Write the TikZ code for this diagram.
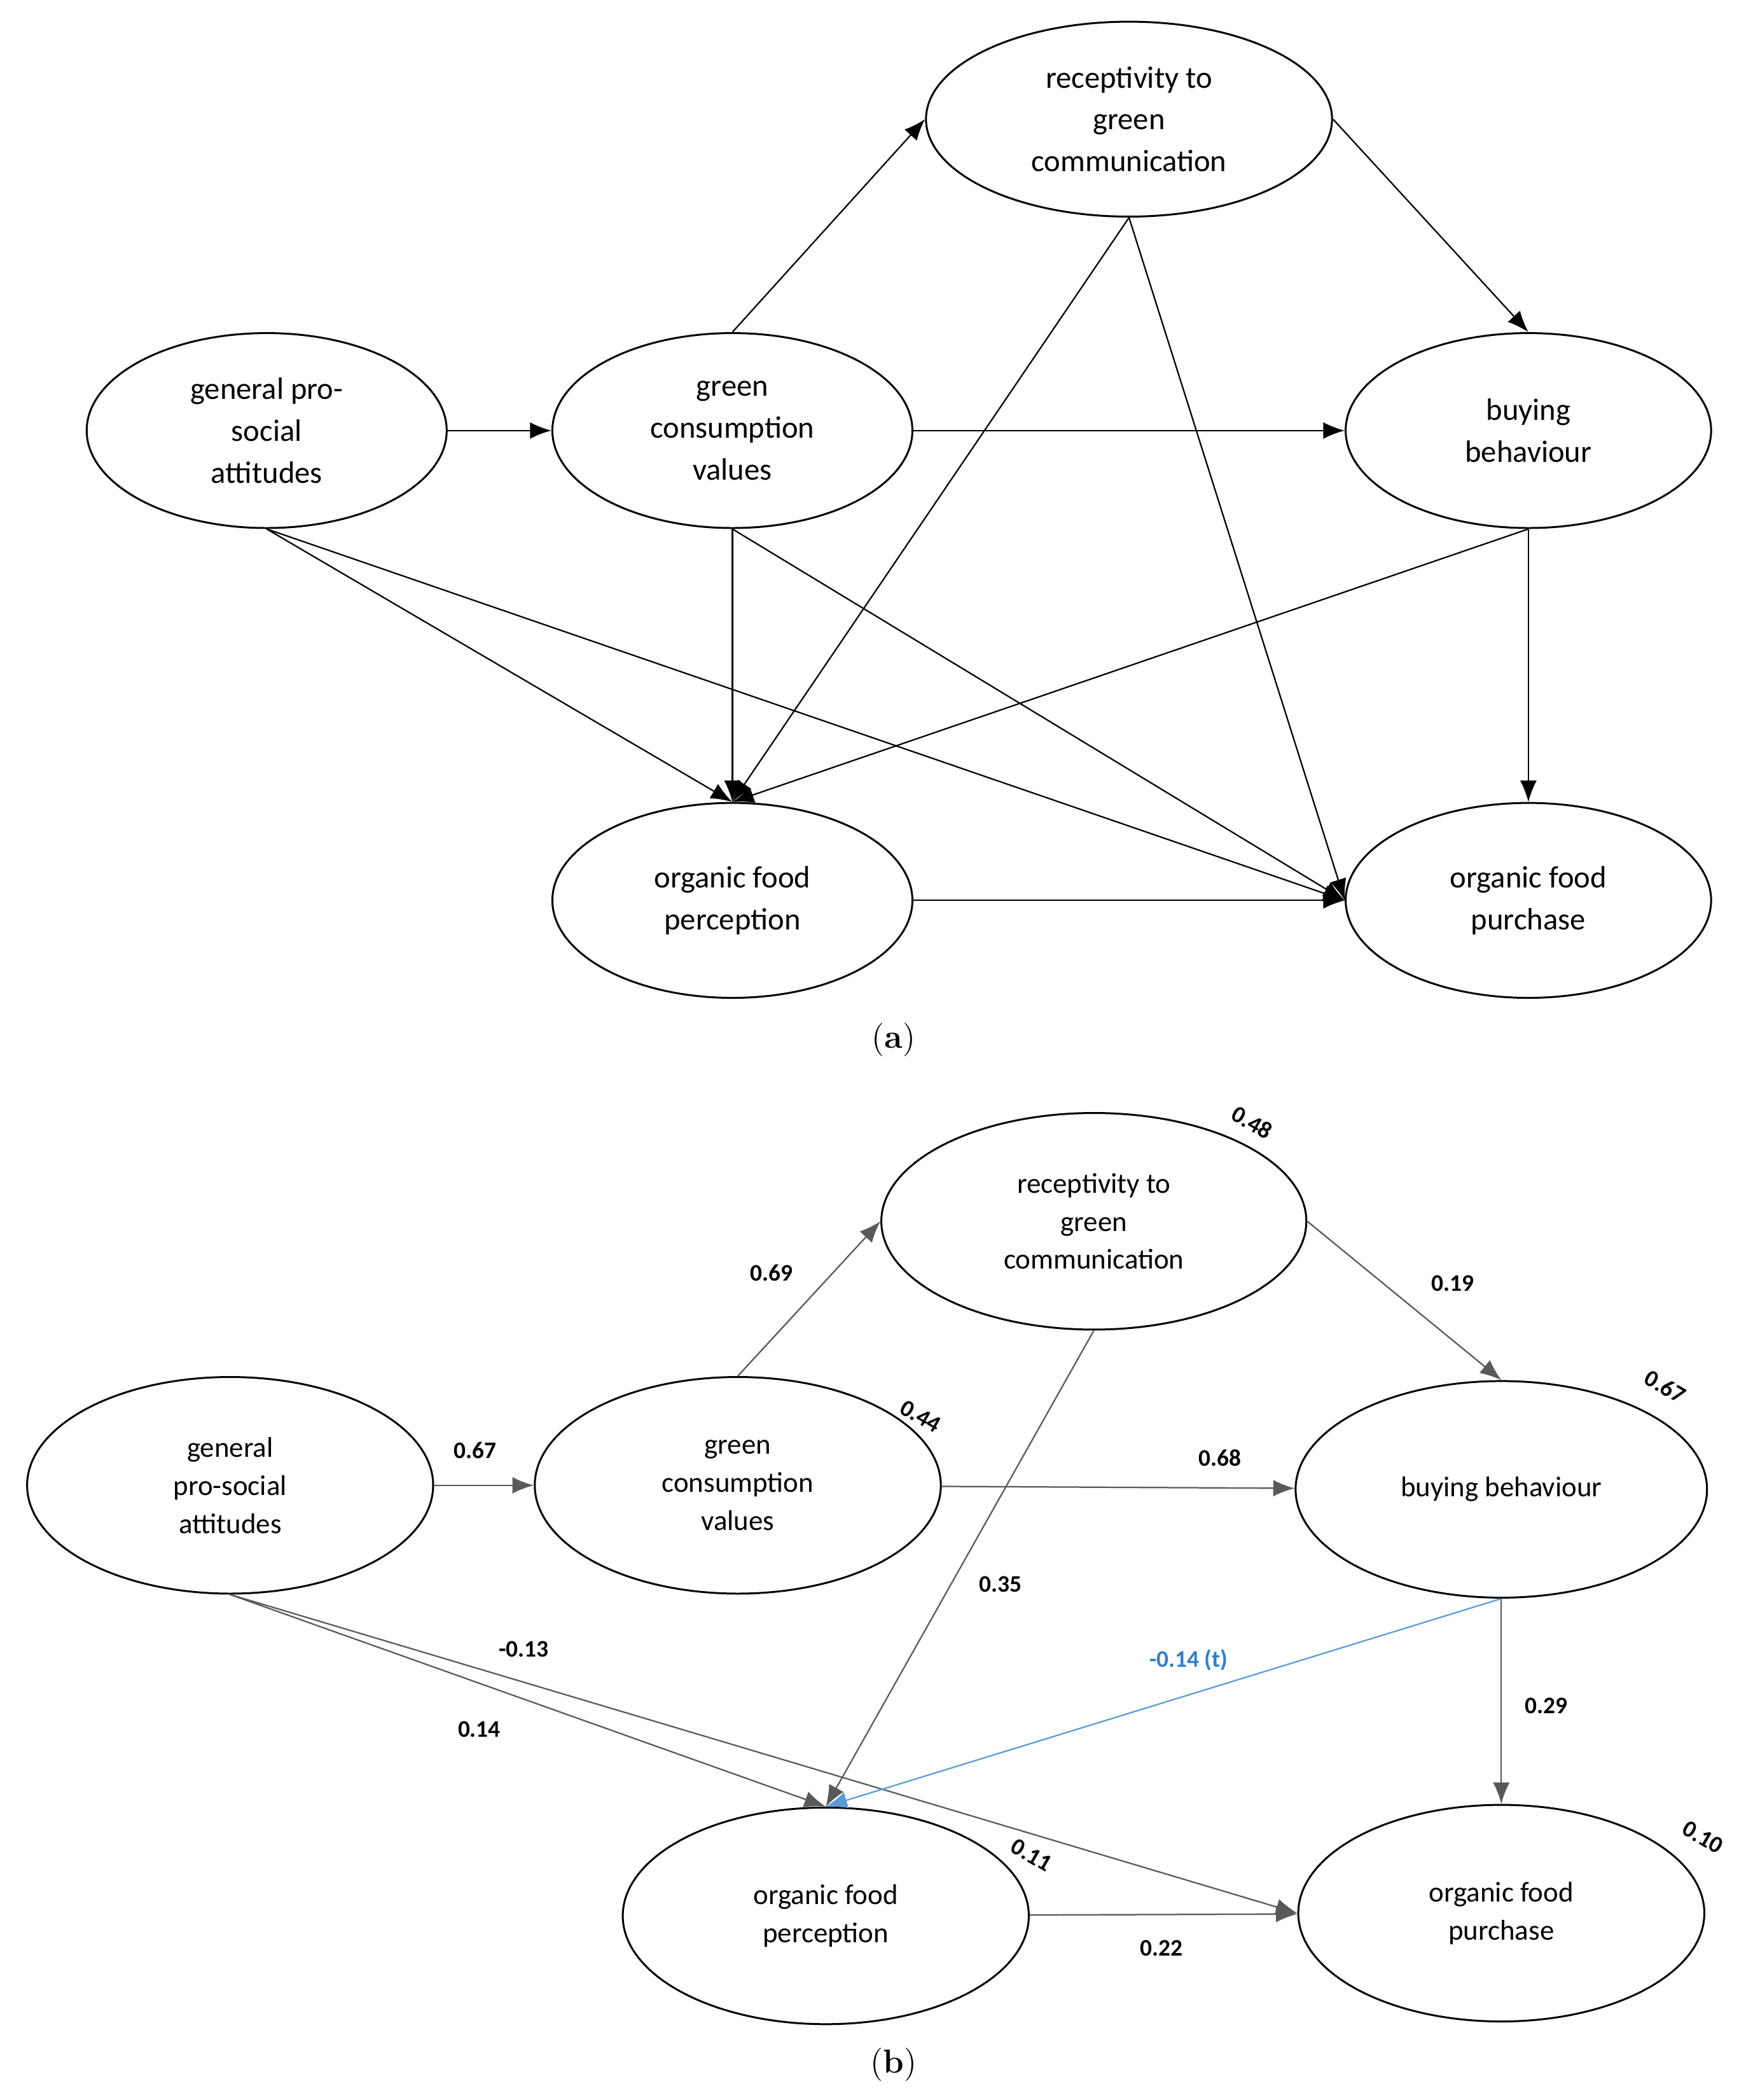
\documentclass[tikz,border=0pt]{standalone}
\usepackage{fontspec}
\setmainfont{Latin Modern Roman}
\newfontfamily\lbl{Carlito}
\usetikzlibrary{shapes.geometric,arrows.meta}

\begin{document}
\begin{tikzpicture}[x=0.02cm,y=-0.02cm,
  latent/.style={draw, ellipse, thick, align=center, font=\lbl\fontsize{13}{17.6}\selectfont, inner sep=0pt},
  lat/.style={latent, minimum width=5.32cm, minimum height=2.88cm},
  latb/.style={latent, minimum width=6cm, minimum height=3.2cm, font=\lbl\fontsize{12}{16}\selectfont},
  path/.style={-{Latex[length=9pt,width=7pt]}, line width=0.6pt},
  pathb/.style={path, draw=black!65},
  coef/.style={font=\lbl\bfseries\fontsize{10}{12}\selectfont},
  panelcap/.style={font=\fontsize{14}{16}\selectfont}]

  \useasboundingbox (0,0) rectangle (1300,1551);

  % panel (a)
  \node[lat] (gpa) at (197,318) {general pro-\\social\\attitudes};
  \node[lat] (gca) at (541,318) {green\\consumption\\values};
  \node[lat, minimum width=6cm] (rca) at (834,88) {receptivity to\\green\\communication};
  \node[lat, minimum width=5.4cm] (bba) at (1129,318) {buying\\behaviour};
  \node[lat] (opa) at (541,665) {organic food\\perception};
  \node[lat, minimum width=5.4cm] (fpa) at (1129,665) {organic food\\purchase};

  \draw[path] (gpa) -- (gca);
  \draw[path] (gca.north) -- (rca.west);
  \draw[path] (rca.east) -- (bba.north);
  \draw[path] (gca) -- (bba);
  \draw[path] (gpa.south) -- (opa.north);
  \draw[path] (gpa.south) -- (fpa.west);
  \draw[path] (gca.south) -- (opa.north);
  \draw[path] (gca.south) -- (fpa.west);
  \draw[path] (rca.south) -- (opa.north);
  \draw[path] (rca.south) -- (fpa.west);
  \draw[path] (bba.south) -- (opa.north);
  \draw[path] (bba.south) -- (fpa.north);
  \draw[path] (opa) -- (fpa);

  \node[panelcap] (capa) at (660,768) {(\textbf{a})};

  % panel (b)
  \node[latb] (gpb) at (170,1097) {general\\pro-social\\attitudes};
  \node[latb] (gcb) at (545,1097) {green\\consumption\\values};
  \node[latb, minimum width=6.28cm] (rcb) at (808,902) {receptivity to\\green\\communication};
  \node[latb, minimum width=6.08cm] (bbb) at (1109,1100) {buying behaviour};
  \node[latb] (opb) at (610,1415) {organic food\\perception};
  \node[latb] (fpb) at (1109,1413) {organic food\\purchase};

  \draw[pathb] (gpb) -- (gcb);
  \draw[pathb] (gcb.north) -- (rcb.west);
  \draw[pathb] (rcb.east) -- (bbb.north);
  \draw[pathb] (gcb) -- (bbb);
  \draw[pathb] (rcb.south) -- (opb.north);
  \draw[pathb] (gpb.south) -- (opb.north);
  \draw[pathb] (gpb.south) -- (fpb.west);
  \draw[path, draw={rgb,255:red,91;green,155;blue,213}] (bbb.south) -- (opb.north);
  \draw[pathb] (bbb) -- (fpb);
  \draw[pathb] (opb) -- (fpb);

  \node[coef] (c1) at (351,1071) {0.67};
  \node[coef] (c2) at (570,940) {0.69};
  \node[coef] (c3) at (1073,948) {0.19};
  \node[coef] (c4) at (901,1077) {0.68};
  \node[coef] (c5) at (739,1170) {0.35};
  \node[coef] (c6) at (387,1218) {-0.13};
  \node[coef] (c7) at (354,1277) {0.14};
  \node[coef, text={rgb,255:red,47;green,128;blue,204}] (c8) at (878,1226) {-0.14 (t)};
  \node[coef] (c9) at (1142,1260) {0.29};
  \node[coef] (c10) at (858,1439) {0.22};
  \node[coef, rotate=-30] (r1) at (925,829) {0.48};
  \node[coef, rotate=-30] (r2) at (680,1046) {0.44};
  \node[coef, rotate=-30] (r3) at (1230,1024) {0.67};
  \node[coef, rotate=-30] (r4) at (1258,1357) {0.10};
  \node[coef, rotate=-30] (r5) at (762,1370) {0.11};

  \node[panelcap] (capb) at (660,1525) {(\textbf{b})};
\end{tikzpicture}
\end{document}
